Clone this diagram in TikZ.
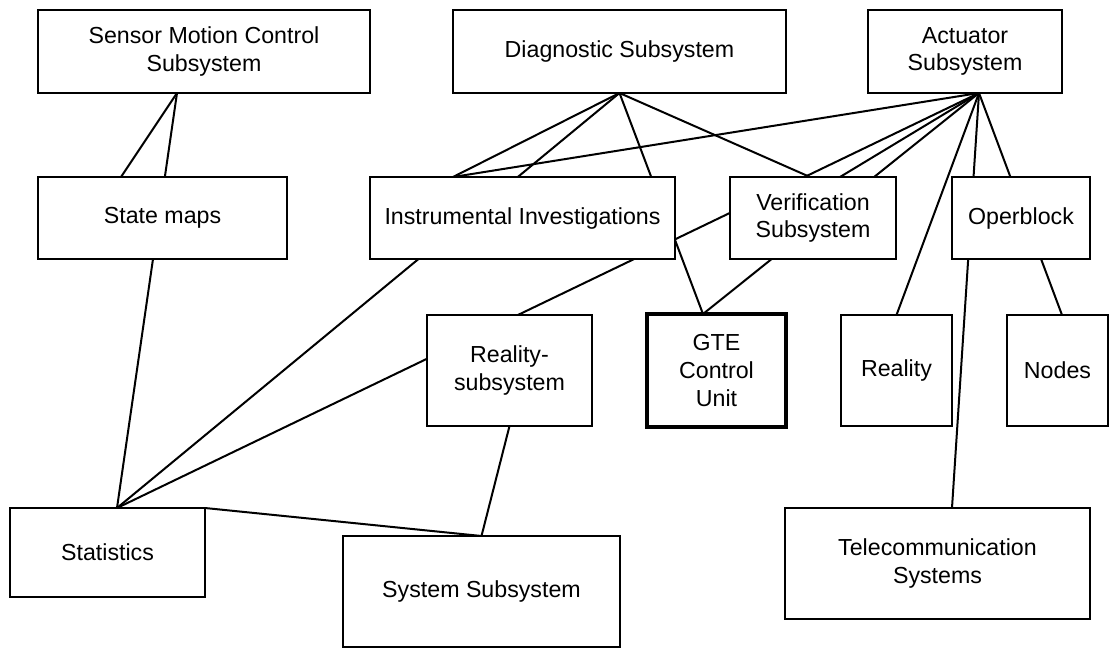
\documentclass[tikz,border=0pt]{standalone}
\usepackage{fontspec}
\setmainfont{Liberation Sans}
\usetikzlibrary{backgrounds}

\begin{document}
\begin{tikzpicture}[
            x=0.5pt, y=-0.5pt,
            blockbox/.style={rectangle, draw=black, fill=white, line width=1pt, align=center,
                inner sep=0pt, outer sep=0pt, font=\fontsize{11.6pt}{13.8pt}\selectfont},
            boldbox/.style={blockbox, line width=2pt},
            link/.style={draw=black, line width=1pt},
            ]
            \useasboundingbox (0,0) rectangle (1110,649);

            \node[blockbox, minimum width=166pt, minimum height=41.5pt]   (sens)    at (204,51.5)    {Sensor Motion Control\\Subsystem};
            \node[blockbox, minimum width=166.5pt, minimum height=41.5pt] (diag)    at (619.5,51.5)  {Diagnostic Subsystem};
            \node[blockbox, minimum width=97pt, minimum height=41.5pt]    (act)     at (965,51.5)    {Actuator\\Subsystem};

            \node[blockbox, minimum width=124.5pt, minimum height=41pt]   (state)   at (162.5,218)   {State maps};
            \node[blockbox, minimum width=152.5pt, minimum height=41pt]   (instr)   at (522.5,218)   {Instrumental Investigations};
            \node[blockbox, minimum width=83pt, minimum height=41pt]      (verif)   at (813,218)     {Verification\\Subsystem};
            \node[blockbox, minimum width=69pt, minimum height=41pt]      (oper)    at (1021,218)    {Operblock};

            \node[blockbox, minimum width=82.5pt, minimum height=55.5pt]  (realsub) at (509.5,370.5) {Reality-\\subsystem};
            \node[boldbox, minimum width=69.5pt, minimum height=56.5pt]   (gte)     at (716.5,370.5) {GTE\\Control\\Unit};
            \node[blockbox, minimum width=55.5pt, minimum height=55.5pt]  (real)    at (896.5,370.5) {Reality};
            \node[blockbox, minimum width=50.5pt, minimum height=55.5pt]  (nod)     at (1057.5,370.5) {Nodes};

            \node[blockbox, minimum width=97.5pt, minimum height=44.5pt]  (stat)    at (107.5,552.5) {Statistics};
            \node[blockbox, minimum width=138.5pt, minimum height=55.5pt] (sys)     at (481.5,591.5) {System Subsystem};
            \node[blockbox, minimum width=152.5pt, minimum height=55.5pt] (tele)    at (937.5,563.5) {Telecommunication\\Systems};

            % links run behind the boxes
            \begin{scope}[on background layer]
                \draw[link] ([xshift=-13.5pt]sens.south) -- ([xshift=-20.75pt]state.north);
                \draw[link] ([xshift=-13.5pt]sens.south) -- ([xshift=4.75pt]stat.north);

                \draw[link] (diag.south) -- ([xshift=-34.75pt]instr.north);
                \draw[link] (diag.south) -- ([xshift=4.75pt]stat.north);
                \draw[link] (diag.south) -- ([xshift=-6.75pt]gte.north);
                \draw[link] (diag.south) -- ([xshift=-1.5pt]verif.north);

                \draw[link] ([xshift=7pt]act.south) -- ([xshift=-34.75pt]instr.north);
                \draw[link] ([xshift=7pt]act.south) -- ([xshift=4.75pt]stat.north);
                \draw[link] ([xshift=7pt]act.south) -- ([xshift=13.5pt]verif.north);
                \draw[link] ([xshift=7pt]act.south) -- ([xshift=-6.75pt]gte.north);
                \draw[link] ([xshift=7pt]act.south) -- (real.north);
                \draw[link] ([xshift=7pt]act.south) -- ([xshift=7.25pt]tele.north);
                \draw[link] ([xshift=7pt]act.south) -- ([xshift=2.25pt]nod.north);

                \draw[link] (realsub.south) -- (sys.north);
                \draw[link] (stat.north east) -- (sys.north);
            \end{scope}
        \end{tikzpicture}
\end{document}
